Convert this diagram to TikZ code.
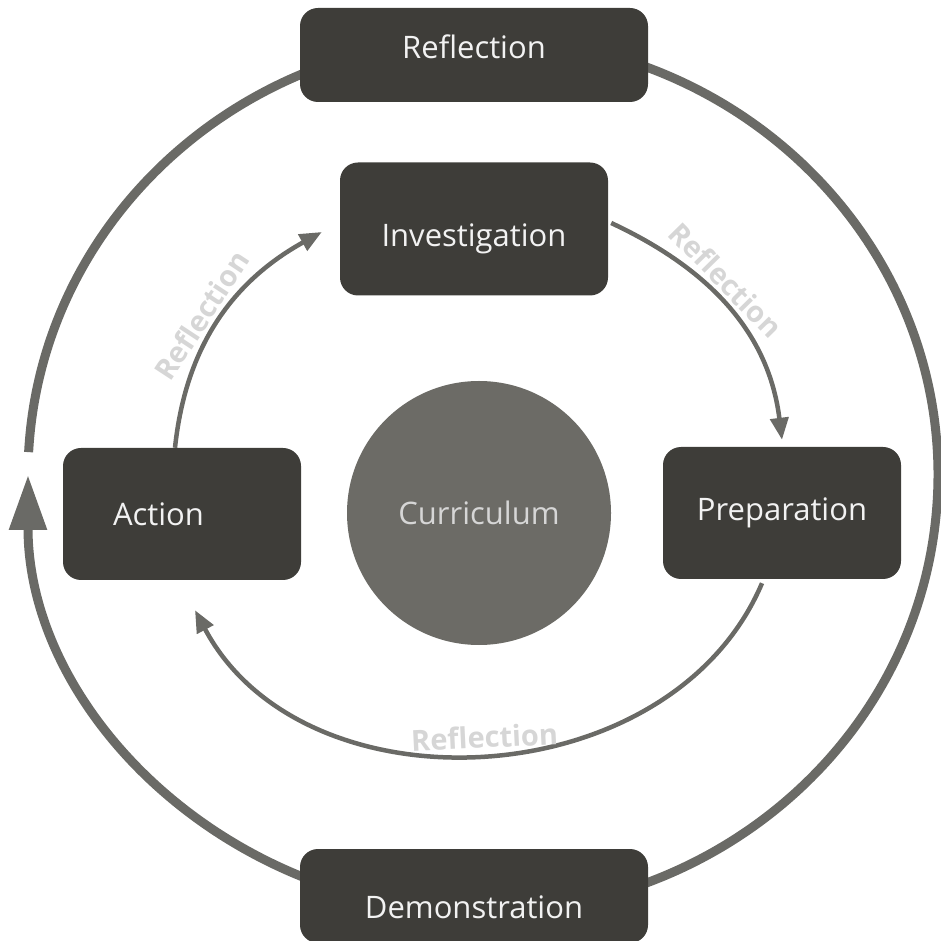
\documentclass[tikz,border=0pt]{standalone}
\usepackage{fontspec}
\setmainfont{Open Sans}
\usetikzlibrary{arrows.meta}
\definecolor{c1}{RGB}{62,61,57}
\definecolor{c2}{RGB}{106,106,102}
\definecolor{c3}{RGB}{108,107,102}
\definecolor{c4}{RGB}{214,214,214}
\definecolor{c5}{RGB}{242,242,242}
\tikzstyle{cycle chart}=[
    x=1pt, y=1pt,
    stage/.style={rectangle, rounded corners=18pt, fill=c1, text=c5, inner sep=0pt,
        font={\fontsize{31}{37}\selectfont}},
    wide stage/.style={stage, minimum width=348pt, minimum height=94pt},
    side stage/.style={stage, minimum width=238pt, minimum height=132pt},
    core/.style={circle, fill=c3, text=c4, inner sep=0pt, minimum size=264pt,
        font={\fontsize{31}{37}\selectfont}},
    ring/.style={c2, line width=9pt, -{Triangle[length=55pt,width=36pt]}},
    loop arrow/.style={c2, line width=4.5pt, -{Triangle[length=22pt,width=18pt]}},
    loop label/.style={text=c4, sloped, inner sep=4pt, font={\fontsize{29}{35}\selectfont\bfseries}},
]

\begin{document}
\begin{tikzpicture}[cycle chart]
    \useasboundingbox (0,0) rectangle (941,940);
    \coordinate (ring) at (483,465);
    % outer cycle, open at the left
    \draw[ring] (ring) ++(177:455 and 437)
        arc[start angle=177, end angle=-180, x radius=455, y radius=437];

    \node[wide stage, text height=24pt, text depth=16pt] (refl) at (474,885) {Reflection};
    \node[wide stage, text height=44pt, text depth=0pt] (demo) at (474,44) {Demonstration};
    \node[stage, minimum width=268pt, minimum height=133pt, text height=43pt, text depth=7pt]
        (invest) at (474,711) {Investigation};
    \node[side stage, text width=138pt, align=left] (action) at (182,426) {Action};
    \node[side stage] (prep) at (782,427) {Preparation};
    \node[core] (curr) at (479,427) {Curriculum};

    % inner cycle
    \draw[loop arrow] ([xshift=-7pt]action.north) to[out=84, in=209]
        node[loop label, above, pos=0.48] {Reflection} ([xshift=-18pt,yshift=-3pt]invest.west);
    \draw[loop arrow] ([xshift=3pt,yshift=6pt]invest.east) to[out=335, in=97]
        node[loop label, above, pos=0.42] {Reflection} ([yshift=7pt]prep.north);
    \draw[loop arrow] ([xshift=-20pt,yshift=-4pt]prep.south) to[out=247, in=298, looseness=1.05]
        node[loop label, above] {Reflection} ([xshift=13pt,yshift=-30pt]action.south);
\end{tikzpicture}
\end{document}
